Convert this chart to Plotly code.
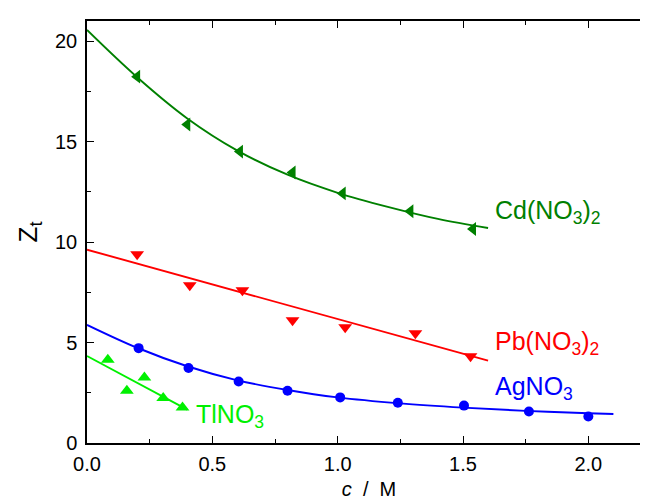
import plotly.graph_objects as go

# ---- data ----
cd_x = [0.20, 0.40, 0.61, 0.82, 1.02, 1.29, 1.54]
cd_y = [18.23, 15.85, 14.50, 13.46, 12.42, 11.53, 10.65]
cd_fit_x = [0.0, 0.2, 0.4, 0.6, 0.8, 1.0, 1.2, 1.4, 1.6]
cd_fit_y = [20.55, 18.2, 16.15, 14.55, 13.35, 12.45, 11.75, 11.15, 10.7]

pb_x = [0.20, 0.41, 0.62, 0.82, 1.03, 1.31, 1.53]
pb_y = [9.39, 7.85, 7.60, 6.11, 5.76, 5.46, 4.32]
pb_fit_x = [0.0, 1.6]
pb_fit_y = [9.62, 4.10]

ag_x = [0.206, 0.405, 0.605, 0.80, 1.01, 1.24, 1.504, 1.763, 2.0]
ag_y = [4.72, 3.73, 3.06, 2.60, 2.27, 2.00, 1.86, 1.57, 1.32]
ag_fit_x = [0.0, 0.2, 0.4, 0.6, 0.8, 1.0, 1.25, 1.5, 1.75, 2.0, 2.1]
ag_fit_y = [5.88, 4.74, 3.82, 3.12, 2.64, 2.27, 1.97, 1.76, 1.60, 1.48, 1.44]

tl_x = [0.083, 0.159, 0.229, 0.304, 0.381]
tl_y = [4.14, 2.60, 3.26, 2.24, 1.77]
tl_fit_x = [0.0, 0.40]
tl_fit_y = [4.33, 1.66]

labels = ["Cd(NO<sub>3</sub>)<sub>2</sub>", "Pb(NO<sub>3</sub>)<sub>2</sub>",
          "AgNO<sub>3</sub>", "TlNO<sub>3</sub>"]
label_x = [1.62, 1.62, 1.62, 0.427]
label_y = [11.5, 5.0, 2.73, 1.34]

C_CD = "#008000"
C_PB = "#ff0000"
C_AG = "#0000ff"
C_TL = "#00f000"
colors = [C_CD, C_PB, C_AG, C_TL]

FONT = "Liberation Sans, Arial, sans-serif"

fig = go.Figure()

def add_series(fx, fy, px, py, color, symbol, size, spline=True):
    fig.add_trace(go.Scatter(x=fx, y=fy, mode="lines",
                             line=dict(color=color, width=1.9,
                                       shape="spline" if spline else "linear"),
                             showlegend=False, hoverinfo="skip"))
    fig.add_trace(go.Scatter(x=px, y=py, mode="markers",
                             marker=dict(color=color, symbol=symbol, size=size,
                                         line=dict(width=0)),
                             showlegend=False))

add_series(cd_fit_x, cd_fit_y, cd_x, cd_y, C_CD, "triangle-left", 12)
add_series(pb_fit_x, pb_fit_y, pb_x, pb_y, C_PB, "triangle-down", 12, spline=False)
add_series(ag_fit_x, ag_fit_y, ag_x, ag_y, C_AG, "circle", 10)
add_series(tl_fit_x, tl_fit_y, tl_x, tl_y, C_TL, "triangle-up", 12, spline=False)

for t, x, y, c in zip(labels, label_x, label_y, colors):
    fig.add_annotation(x=x, y=y, text=t, showarrow=False, xanchor="left",
                       yanchor="middle", font=dict(family=FONT, size=25, color=c))

axis_common = dict(showline=True, linecolor="black", linewidth=1.5, mirror="ticks",
                   ticks="inside", ticklen=7, tickwidth=1.3, tickcolor="black",
                   showgrid=False, zeroline=False,
                   tickfont=dict(family=FONT, size=20, color="black"))

fig.update_xaxes(range=[0, 2.25], dtick=0.5, tick0=0, tickformat=".1f",
                 ticklabelstandoff=2,
                 minor=dict(ticks="inside", ticklen=4, dtick=0.25, tickcolor="black", tickwidth=1.3),
                 title=dict(text="<i>c</i>  /  M", font=dict(family=FONT, size=20, color="black"),
                            standoff=8),
                 **axis_common)
fig.update_yaxes(range=[0, 21], dtick=5, tick0=0,
                 ticklabelstandoff=4,
                 minor=dict(ticks="inside", ticklen=4, dtick=2.5, tickcolor="black", tickwidth=1.3),
                 title=dict(text="Z<sub>t</sub>", font=dict(family=FONT, size=26, color="black"),
                            standoff=10),
                 **axis_common)

fig.update_layout(width=648, height=503, margin=dict(l=79, r=3, t=13, b=68),
                  plot_bgcolor="white", paper_bgcolor="white", showlegend=False)

fig.write_html("out.html")
